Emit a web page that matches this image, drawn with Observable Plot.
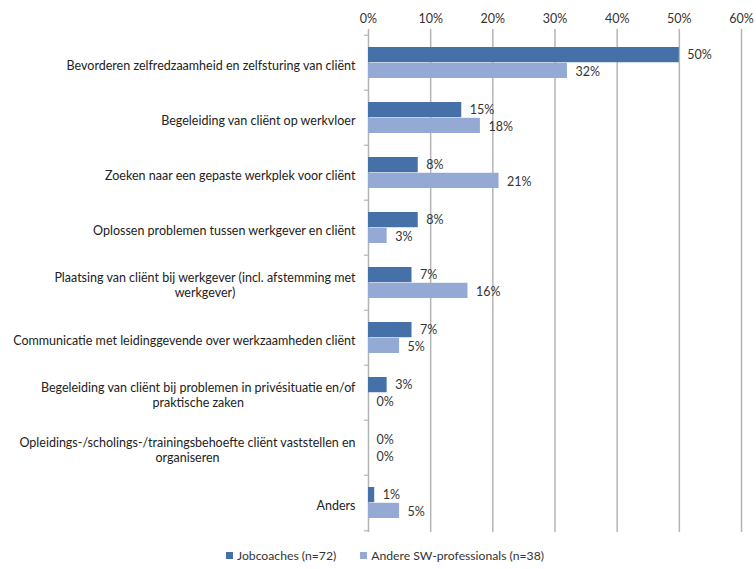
<!DOCTYPE html>
<html>
<head>
<meta charset="utf-8">
<script src="https://cdn.jsdelivr.net/npm/d3@7"></script>
<script src="https://cdn.jsdelivr.net/npm/@observablehq/plot@0.6"></script>
<style>
  html, body { margin: 0; padding: 0; background: #fff; }
  #wrap { position: relative; width: 756px; height: 569px; font-family: Lato, "Open Sans", sans-serif; }
  #legend { position: absolute; left: 226px; top: 548px; display: flex; gap: 24px; font-size: 12.2px; color: #333; }
  #legend span.item { display: flex; align-items: center; }
  #legend i { display: inline-block; width: 7px; height: 7px; margin-right: 4px; }
</style>
</head>
<body>
<div id="wrap">
  <div id="chart"></div>
  <div id="legend"></div>
</div>
<script>
const categories = [
  "Bevorderen zelfredzaamheid en zelfsturing van cliënt",
  "Begeleiding van cliënt op werkvloer",
  "Zoeken naar een gepaste werkplek voor cliënt",
  "Oplossen problemen tussen werkgever en cliënt",
  "Plaatsing van cliënt bij werkgever (incl. afstemming met\nwerkgever)",
  "Communicatie met leidinggevende over werkzaamheden cliënt",
  "Begeleiding van cliënt bij problemen in privésituatie en/of\npraktische zaken",
  "Opleidings-/scholings-/trainingsbehoefte cliënt vaststellen en\norganiseren",
  "Anders"
];
const seriesNames = ["Jobcoaches (n=72)", "Andere SW-professionals (n=38)"];
const jobcoaches = [50, 15, 8, 8, 7, 7, 3, 0, 1];
const andere = [32, 18, 21, 3, 16, 5, 0, 0, 5];
const xTicks = [0, 10, 20, 30, 40, 50, 60];
const colors = ["#4671a8", "#94aad4"];

const data = [];
categories.forEach((c, i) => {
  data.push({cat: c, series: seriesNames[0], value: jobcoaches[i]});
  data.push({cat: c, series: seriesNames[1], value: andere[i]});
});
const d0 = data.filter(d => d.series === seriesNames[0]);
const d1 = data.filter(d => d.series === seriesNames[1]);

const H = 540, mTop = 32, mBottom = 8;
const band = (H - mTop - mBottom) / categories.length;
const outer = 12;
const half = band / 2;
const FS = 12.5;

const chart = Plot.plot({
  width: 756,
  height: H,
  marginLeft: 368,
  marginRight: 15,
  marginTop: mTop,
  marginBottom: mBottom,
  style: {fontFamily: "Lato, 'Open Sans', sans-serif", fontSize: FS + "px", color: "#333", background: "#fff"},
  x: {domain: [0, 60], ticks: xTicks, tickFormat: d => d + "%"},
  y: {domain: categories, padding: 0, label: null},
  color: {domain: seriesNames, range: colors},
  marks: [
    Plot.ruleX(xTicks.filter(d => d > 0), {stroke: "#b5b5b5", strokeWidth: 1.5, insetTop: -3}),
    Plot.ruleX([0], {stroke: "#b5b5b5", strokeWidth: 1.5, insetTop: -3}),
    Plot.ruleY(categories, {y: d => d, x1: 0, x2: 0, insetLeft: -4, dy: -half, stroke: "#b5b5b5", strokeWidth: 1.2}),
    Plot.ruleY([categories[categories.length - 1]], {y: d => d, x1: 0, x2: 0, insetLeft: -4, dy: half, stroke: "#b5b5b5", strokeWidth: 1.2}),
    Plot.barX(d0, {x: "value", y: "cat", fill: "series", insetTop: outer, insetBottom: half}),
    Plot.barX(d1, {x: "value", y: "cat", fill: "series", insetTop: half, insetBottom: outer}),
    Plot.text(d0, {x: "value", y: "cat", text: d => d.value + "%", textAnchor: "start", dx: 8, dy: -(half - outer) / 2 - 0.5, fill: "#333", fontSize: FS}),
    Plot.text(d1, {x: "value", y: "cat", text: d => d.value + "%", textAnchor: "start", dx: 8, dy: (half - outer) / 2 + 1.5, fill: "#333", fontSize: FS}),
    Plot.axisX({anchor: "top", ticks: xTicks, tickFormat: d => d + "%", tickSize: 0, tickPadding: 10, label: null, fill: "#333", fontSize: FS}),
    Plot.axisY({anchor: "left", tickSize: 0, tickPadding: 13, label: null, lineHeight: 1.2, dy: 2, fill: "#222", fontSize: FS})
  ]
});
document.getElementById("chart").appendChild(chart);

// center multi-line category labels within their block (as in the original)
chart.querySelectorAll('g[aria-label="y-axis tick label"] text').forEach(t => {
  const spans = t.querySelectorAll("tspan");
  if (spans.length > 1) {
    let maxW = 0;
    spans.forEach(s => { maxW = Math.max(maxW, s.getComputedTextLength()); });
    t.setAttribute("text-anchor", "middle");
    spans.forEach(s => { s.setAttribute("x", -maxW / 2); s.setAttribute("text-anchor", "middle"); });
  }
});

const legend = document.getElementById("legend");
seriesNames.forEach((n, i) => {
  const it = document.createElement("span");
  it.className = "item";
  it.innerHTML = `<i style="background:${colors[i]}"></i>${n}`;
  legend.appendChild(it);
});
</script>
</body>
</html>
